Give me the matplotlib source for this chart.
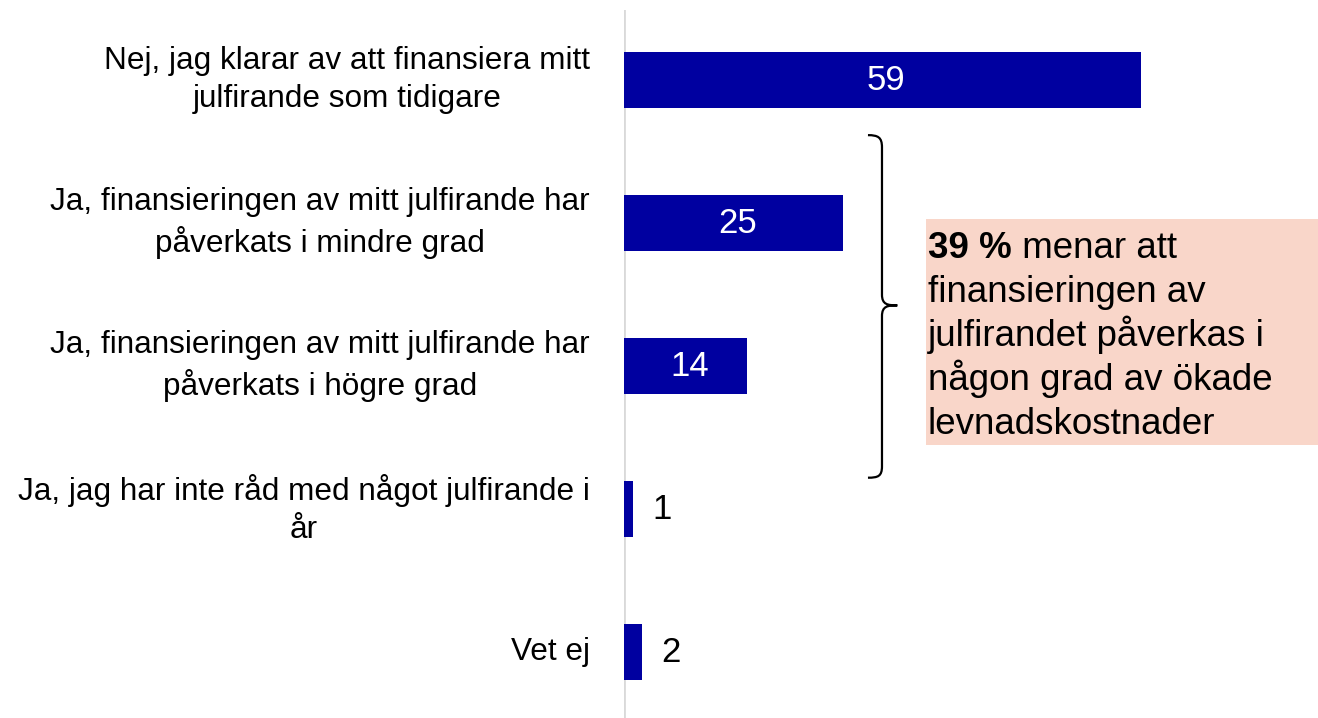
import matplotlib
matplotlib.use('Agg')
import matplotlib.pyplot as plt
from matplotlib.path import Path
from matplotlib.patches import PathPatch, Rectangle

plt.rcParams['font.family'] = ['Liberation Sans', 'DejaVu Sans']

# ----------------------------------------------------------------------
# data
categories = [
    'Nej, jag klarar av att finansiera mitt\njulfirande som tidigare',
    'Ja, finansieringen av mitt julfirande har\npåverkats i mindre grad',
    'Ja, finansieringen av mitt julfirande har\npåverkats i högre grad',
    'Ja, jag har inte råd med något julfirande i\når',
    'Vet ej',
]
values = [59, 25, 14, 1, 2]
note_bold = '39 %'
note_first = ' menar att'
note_lines = ['finansieringen av', 'julfirandet påverkas i',
              'någon grad av ökade', 'levnadskostnader']

BAR_COLOR = '#0000A0'
W, H = 1318, 718
PX_PER_UNIT = 8.76

fig = plt.figure(figsize=(W / 100, H / 100), dpi=100)
ax = fig.add_axes([624 / W, 0, 1 - 624 / W, 708 / H])
ax.patch.set_visible(False)

y = list(range(len(values)))
ax.barh(y, values, height=0.39, color=BAR_COLOR, zorder=2)
ax.axvline(0, color='#D9D9D9', lw=2, zorder=1)

ax.set_xlim(0, (W - 624) / PX_PER_UNIT)
ax.set_ylim(4.46, -0.49)
for s in ax.spines.values():
    s.set_visible(False)
ax.set_xticks([])
ax.set_yticks([])

# category labels
for yi, lab in zip(y, categories):
    ax.text(-3.9, yi, lab, ha='right', va='center', multialignment='center',
            fontsize=22.7, linespacing=1.36, color='black')

# value labels
for yi, v in zip(y, values):
    if v >= 10:
        ax.text(v / 2 + 0.45, yi, str(v), ha='center', va='center',
                color='white', fontsize=25)
    else:
        ax.text(v + 2.2, yi, str(v), ha='left', va='center', color='black',
                fontsize=25)

# brace
verts = [(27.85, 0.385), (29.0, 0.385), (29.45, 0.40), (29.45, 0.47),
         (29.45, 1.50),
         (29.45, 1.57), (30.1, 1.575), (31.2, 1.575),
         (30.1, 1.575), (29.45, 1.58), (29.45, 1.65),
         (29.45, 2.70),
         (29.45, 2.77), (29.0, 2.78), (27.85, 2.78)]
codes = [Path.MOVETO, Path.CURVE4, Path.CURVE4, Path.CURVE4,
         Path.LINETO,
         Path.CURVE4, Path.CURVE4, Path.CURVE4,
         Path.CURVE4, Path.CURVE4, Path.CURVE4,
         Path.LINETO,
         Path.CURVE4, Path.CURVE4, Path.CURVE4]
ax.add_patch(PathPatch(Path(verts, codes), fill=False, lw=1.6,
                       edgecolor='black', clip_on=False))

# note box
fig.patches.append(Rectangle((926 / W, 1 - 445 / H), (W - 926) / W, 226 / H,
                             transform=fig.transFigure, facecolor='#F9D6C9',
                             edgecolor='none', zorder=-1))
NOTE_FS = 26.5
tb = fig.text(928 / W, 1 - 258 / H, note_bold, fontsize=NOTE_FS, weight='bold',
              ha='left', va='baseline')
ax.annotate(note_first, xy=(1, 0), xycoords=tb, ha='left', va='bottom',
            fontsize=NOTE_FS, annotation_clip=False)
for k, line in enumerate(note_lines, start=1):
    fig.text(928 / W, 1 - (258 + 44 * k) / H, line, fontsize=NOTE_FS,
             ha='left', va='baseline')

fig.savefig('out.png', dpi=100)
